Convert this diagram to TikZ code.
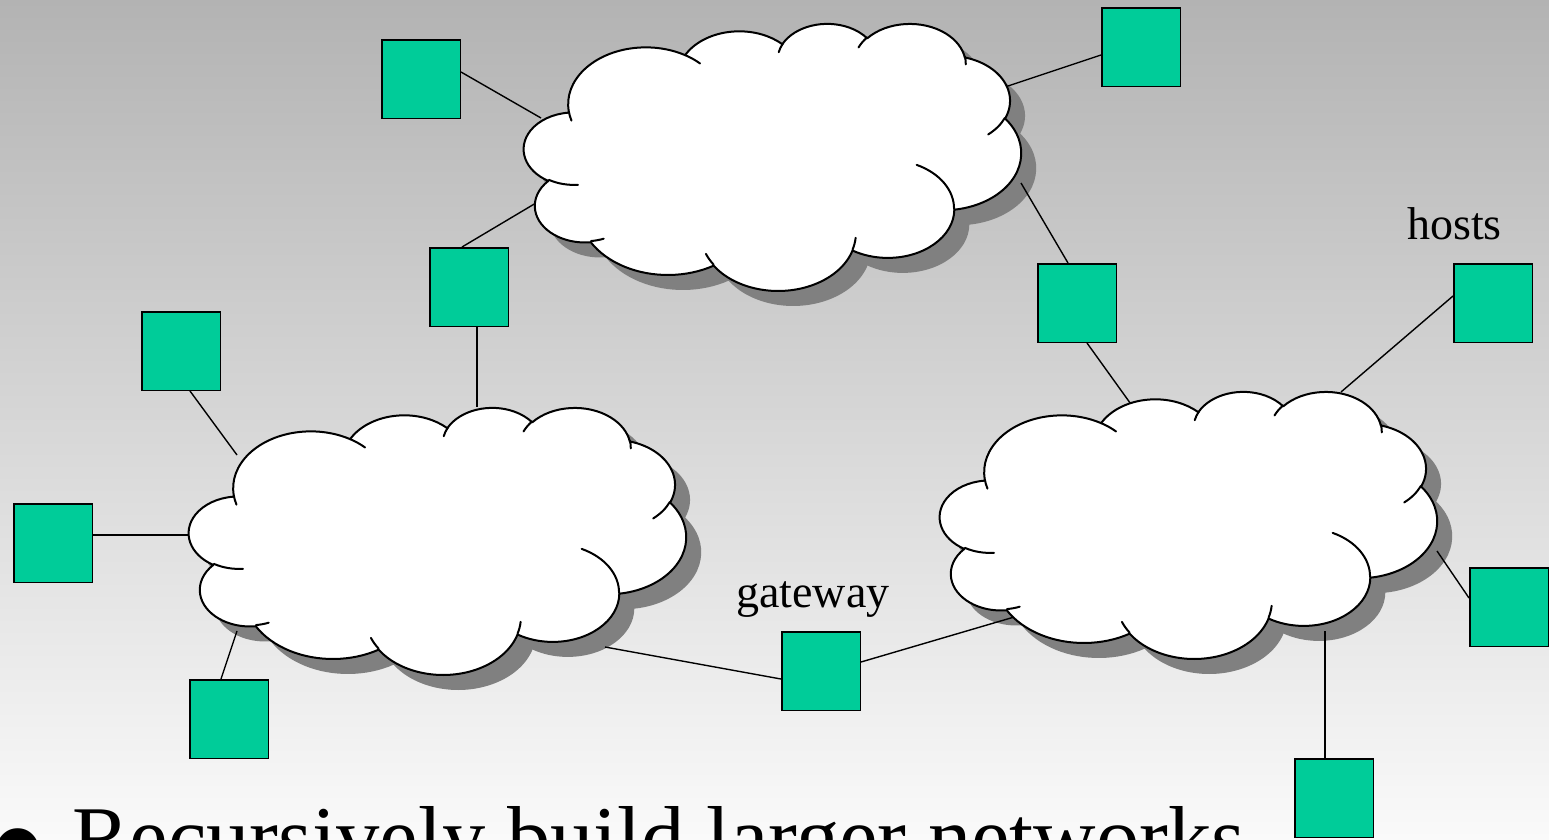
\documentclass[tikz,border=0pt]{standalone}
\usepackage{fontspec}
\setmainfont{Liberation Serif}
\usetikzlibrary{calc}

\definecolor{hostgreen}{RGB}{0,204,153}
\definecolor{shadowgray}{RGB}{128,128,128}
\definecolor{bgtop}{RGB}{179,179,179}
\definecolor{bgbot}{RGB}{250,250,250}

% ---- cloud path (PowerPoint cloud geometry, units of 1/100 of 43200 grid) ----
\newcommand\cldreset{\gdef\cldacc{}}
\newcommand\cldmv[2]{\xdef\cldacc{\cldacc (#1,#2)}}
\newcommand\cldarc[4]{%
  \pgfmathsetmacro\cldA{atan2((#1)*sin(#3),(#2)*cos(#3))}%
  \pgfmathsetmacro\cldB{atan2((#1)*sin((#3)+(#4)),(#2)*cos((#3)+(#4)))}%
  \pgfmathsetmacro\cldD{(\cldB)-(\cldA)}%
  \pgfmathsetmacro\cldD{(\cldD)-360*round(((\cldD)-(#4))/360)}%
  \xdef\cldacc{\cldacc arc[x radius=#1,y radius=#2,start angle=\cldA,delta angle=\cldD]}%
}
\cldreset
\cldmv{39.00}{143.70}
\cldarc{67.53}{91.90}{-190.4875}{123.7805}
\cldarc{53.33}{72.67}{-144.1024}{89.9452}
\cldarc{43.65}{59.45}{-145.8079}{99.7230}
\cldarc{48.57}{65.95}{-130.9861}{117.2417}
\cldarc{53.33}{72.73}{-78.7089}{109.0269}
\cldarc{67.75}{92.20}{-46.2673}{130.2690}
\cldarc{57.85}{78.67}{0.6250}{114.0333}
\cldarc{67.52}{92.15}{22.4516}{115.1726}
\cldarc{77.20}{105.43}{66.2426}{75.7110}
\cldarc{43.60}{59.18}{-274.9421}{146.7356}
\cldarc{43.45}{59.45}{-246.8285}{152.5189}
\xdef\cldouter{\cldacc -- cycle}
\cldreset
\cldmv{46.93}{261.77}\cldarc{43.45}{59.45}{86.7420}{26.4295}
\cldmv{69.28}{348.99}\cldarc{43.60}{59.18}{73.6105}{11.4475}
\cldmv{164.78}{390.90}\cldarc{67.52}{92.15}{137.6242}{14.0811}
\cldmv{288.27}{347.51}\cldarc{67.52}{92.15}{6.4533}{15.9984}
\cldmv{341.29}{229.54}\cldarc{57.85}{78.67}{-70.2924}{70.9174}
\cldmv{417.98}{153.54}\cldarc{53.33}{72.73}{30.3180}{27.7515}
\cldmv{383.24}{54.26}\cldarc{48.57}{65.95}{-13.7443}{14.8589}
\cldmv{290.78}{39.52}\cldarc{48.57}{65.95}{-149.1815}{18.1954}
\cldmv{221.41}{47.20}\cldarc{43.65}{59.45}{-163.4943}{17.6864}
\cldmv{140.00}{51.92}\cldarc{67.53}{91.90}{-66.7070}{12.3194}
\cldmv{41.27}{157.89}\cldarc{67.53}{91.90}{157.6544}{11.8582}
\xdef\cldinner{\cldacc}

\newcommand\cloudshadowat[2]{%
  \begin{scope}[shift={(#1+15,#2+15)},x=1.15046pt,y=-0.61806pt]
    \fill[shadowgray] \cldouter;
  \end{scope}}
\newcommand\cloudbodyat[2]{%
  \begin{scope}[shift={(#1,#2)},x=1.15046pt,y=-0.61806pt]
    \filldraw[cloudline,fill=white] \cldouter;
    \draw[cloudline] \cldinner;
  \end{scope}}

\tikzset{
  cloudline/.style={draw=black,line width=2pt,line join=round,line cap=round},
  host/.style={draw=black,line width=1.5pt,fill=hostgreen,minimum size=78.5pt,inner sep=0pt},
  conn/.style={draw=black,line width=1.4pt},
  lbl/.style={inner sep=0pt,anchor=base west,font=\fontsize{46}{50}\selectfont},
}

\begin{document}
\begin{tikzpicture}[x=1pt,y=-1pt]
\useasboundingbox (0,0) rectangle (1549,839);
\shade[top color=bgtop,bottom color=bgbot] (0,0) rectangle (1549,839);

% shadows of the three networks
\cloudshadowat{524}{23}
\cloudshadowat{189}{407}
\cloudshadowat{940}{391}

% attachment points on the clouds
\coordinate (c1) at (541,118);
\coordinate (c2) at (1005,87);
\coordinate (c3a) at (541,200);
\coordinate (c3b) at (477,407);
\coordinate (c4a) at (1021,183);
\coordinate (c4b) at (1133,407);
\coordinate (c5) at (1341,392);
\coordinate (c6) at (237,455);
\coordinate (c7) at (189,535);
\coordinate (c8) at (237,631);
\coordinate (c9a) at (605,647);
\coordinate (c9b) at (1021,615);
\coordinate (c10) at (1437,551);
\coordinate (c11) at (1325,631);

% hosts (placed first so that connectors can refer to them)
\node[host] (s1) at (421,79) {};
\node[host] (s2) at (1141,47) {};
\node[host] (s3) at (469,287) {};
\node[host] (s4) at (1077,303) {};
\node[host] (s5) at (1493,303) {};
\node[host] (s6) at (181,351) {};
\node[host] (s7) at (53,543) {};
\node[host] (s8) at (229,719) {};
\node[host] (s9) at (821,671) {};
\node[host] (s10) at (1509,607) {};
\node[host] (s11) at (1334,798) {};

\draw[conn] ([yshift=7pt]s1.east) -- (c1);
\draw[conn] ([yshift=-8pt]s2.west) -- (c2);
\draw[conn] ([xshift=-7pt]s3.north) -- (c3a);
\draw[conn] ([xshift=8pt]s3.south) -- (c3b);
\draw[conn] ([xshift=-9pt]s4.north) -- (c4a);
\draw[conn] ([xshift=10pt]s4.south) -- (c4b);
\draw[conn] ([yshift=7pt]s5.west) -- (c5);
\draw[conn] ([xshift=9pt]s6.south) -- (c6);
\draw[conn] ([yshift=8pt]s7.east) -- (c7);
\draw[conn] ([xshift=-8pt]s8.north) -- (c8);
\draw[conn] ([yshift=-8pt]s9.west) -- (c9a);
\draw[conn] ([yshift=9pt]s9.east) -- (c9b);
\draw[conn] ([yshift=9pt]s10.west) -- (c10);
\draw[conn] ([xshift=-9pt]s11.north) -- (c11);

% clouds
\cloudbodyat{524}{23}
\cloudbodyat{189}{407}
\cloudbodyat{940}{391}

\node[lbl] (hosts) at (1407,239) {hosts};
\node[lbl] (gw) at (736,607) {gateway};
\node[inner sep=0pt,anchor=base west,font=\fontsize{175}{175}\selectfont] (bul) at (-13,907) {•};
\node[inner sep=0pt,anchor=base west,font=\fontsize{86.5}{90}\selectfont] (bt) at (72,866) {Recursively build larger networks};
\end{tikzpicture}
\end{document}
